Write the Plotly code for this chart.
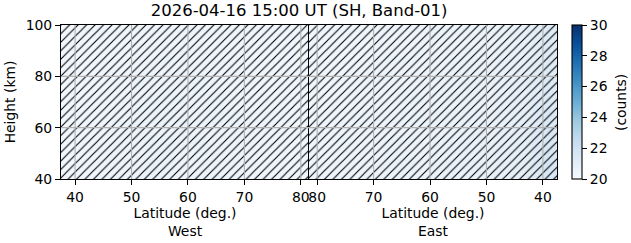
import plotly.graph_objects as go

# ---- data ----
title_text = "2026-04-16 15:00 UT (SH, Band-01)"
lat_centers = [39.5, 43.5, 47.5, 51.5, 55.5, 59.5, 63.5, 67.5, 71.5, 75.5, 79.5]
lat_bin = 4.0
height_centers = [45, 55, 65, 75, 85, 95]
height_range = [40, 100]
west_counts = [
    [20.35, 20.45, 20.50, 20.55, 20.55, 20.50, 20.55, 20.50, 20.45, 20.45, 20.40],
    [20.35, 20.45, 20.50, 20.55, 20.60, 20.55, 20.55, 20.50, 20.50, 20.45, 20.40],
    [20.35, 20.40, 20.50, 20.55, 20.55, 20.55, 20.50, 20.50, 20.45, 20.45, 20.40],
    [20.30, 20.40, 20.45, 20.50, 20.55, 20.50, 20.50, 20.45, 20.45, 20.40, 20.40],
    [20.30, 20.35, 20.40, 20.45, 20.50, 20.50, 20.45, 20.45, 20.40, 20.40, 20.35],
    [20.30, 20.35, 20.40, 20.40, 20.45, 20.45, 20.40, 20.40, 20.40, 20.35, 20.35],
]
east_counts = [
    [21.60, 20.95, 20.75, 20.70, 20.65, 20.60, 20.60, 20.55, 20.55, 20.50, 20.45],
    [21.50, 20.90, 20.75, 20.70, 20.65, 20.60, 20.55, 20.55, 20.50, 20.50, 20.45],
    [21.40, 20.85, 20.70, 20.65, 20.60, 20.60, 20.55, 20.50, 20.50, 20.45, 20.45],
    [21.30, 20.80, 20.70, 20.65, 20.60, 20.55, 20.55, 20.50, 20.50, 20.45, 20.40],
    [21.25, 20.75, 20.65, 20.60, 20.55, 20.50, 20.50, 20.50, 20.45, 20.40, 20.40],
    [21.20, 20.70, 20.60, 20.55, 20.50, 20.50, 20.45, 20.45, 20.40, 20.40, 20.35],
]
lat_ticks = [40, 50, 60, 70, 80]
height_ticks = [40, 60, 80, 100]
cbar_ticks = [20, 22, 24, 26, 28, 30]
count_range = [20, 30]
cbar_label = "(counts)"

# ---- derived extents ----
lat_lo = min(lat_centers) - lat_bin / 2
lat_hi = max(lat_centers) + lat_bin / 2 - 0.05
FONT = "DejaVu Sans"
fs = 13.9

fig = go.Figure()
for z, xa, ya in [(west_counts, "x", "y"), (east_counts, "x2", "y2")]:
    fig.add_trace(go.Heatmap(
        x=lat_centers, y=height_centers, z=z, coloraxis="coloraxis",
        zsmooth="best", xaxis=xa, yaxis=ya, hoverinfo="skip"))
for xa, ya in [("x", "y"), ("x2", "y2")]:
    fig.add_trace(go.Bar(
        x=[(lat_lo + lat_hi) / 2], y=[height_range[1] - height_range[0]],
        base=[height_range[0]], width=[lat_hi - lat_lo],
        marker=dict(color="rgba(0,0,0,0)", line=dict(width=0),
                    pattern=dict(shape="/", fgcolor="black", fgopacity=1, size=6,
                                 solidity=0.18, fillmode="overlay")),
        xaxis=xa, yaxis=ya, showlegend=False, hoverinfo="skip"))

# grid lines drawn above the image (as matplotlib does)
shapes = []
for xr, yr in [("x", "y domain"), ("x2", "y2 domain")]:
    for t in lat_ticks:
        shapes.append(dict(type="line", xref=xr, yref=yr, x0=t, x1=t, y0=0, y1=1,
                           line=dict(color="#b0b0b0", width=1.1), layer="above"))
for xr, yr in [("x domain", "y"), ("x2 domain", "y2")]:
    for t in height_ticks[1:-1]:
        shapes.append(dict(type="line", xref=xr, yref=yr, x0=0, x1=1, y0=t, y1=t,
                           line=dict(color="#b0b0b0", width=1.1), layer="above"))

axis_common = dict(showline=True, linecolor="black", linewidth=1.1, mirror=True,
                   ticks="outside", ticklen=5, tickwidth=1.1, tickcolor="black",
                   showgrid=False, zeroline=False, layer="above traces",
                   tickfont=dict(family=FONT, size=fs, color="black"))

fig.update_layout(
    width=631, height=243,
    margin=dict(l=61, r=74, t=25, b=64, autoexpand=False),
    paper_bgcolor="white", plot_bgcolor="white",
    font=dict(family=FONT, size=fs, color="black"),
    barmode="overlay", showlegend=False, shapes=shapes,
    title=dict(text=title_text, x=0.474, xanchor="center", y=0.98, yanchor="top",
               font=dict(family=FONT, size=16.5, color="black")),
    xaxis=dict(domain=[0, 0.5], range=[lat_lo, lat_hi], tickvals=lat_ticks,
               title=dict(text="Latitude (deg.)<br>West", standoff=2,
                          font=dict(family=FONT, size=fs)), anchor="y", **axis_common),
    xaxis2=dict(domain=[0.5, 1], range=[lat_hi, lat_lo], tickvals=lat_ticks,
                title=dict(text="Latitude (deg.)<br>East", standoff=2,
                           font=dict(family=FONT, size=fs)), anchor="y2", **axis_common),
    yaxis=dict(range=height_range, tickvals=height_ticks, anchor="x",
               title=dict(text="Height (km)", standoff=6, font=dict(family=FONT, size=fs)),
               **axis_common),
    yaxis2=dict(range=height_range, tickvals=height_ticks, anchor="x2",
                showticklabels=False, ticks="", **{k: v for k, v in axis_common.items()
                                                    if k not in ("ticks",)}),
    coloraxis=dict(
        cmin=count_range[0], cmax=count_range[1], colorscale="Blues",
        colorbar=dict(x=1.030, xanchor="left", xpad=0, y=0.5, yanchor="middle", len=1,
                      ypad=0, lenmode="fraction", thickness=10, thicknessmode="pixels",
                      outlinecolor="black", outlinewidth=1.1,
                      tickvals=cbar_ticks, ticks="outside", ticklen=5,
                      tickwidth=1.1, tickcolor="black",
                      tickfont=dict(family=FONT, size=fs, color="black"))),
    annotations=[dict(text=cbar_label, xref="paper", yref="paper", x=1.129, y=0.5,
                      xanchor="center", yanchor="middle", textangle=-90, showarrow=False,
                      font=dict(family=FONT, size=fs, color="black"))],
)

fig.write_html("out.html")
